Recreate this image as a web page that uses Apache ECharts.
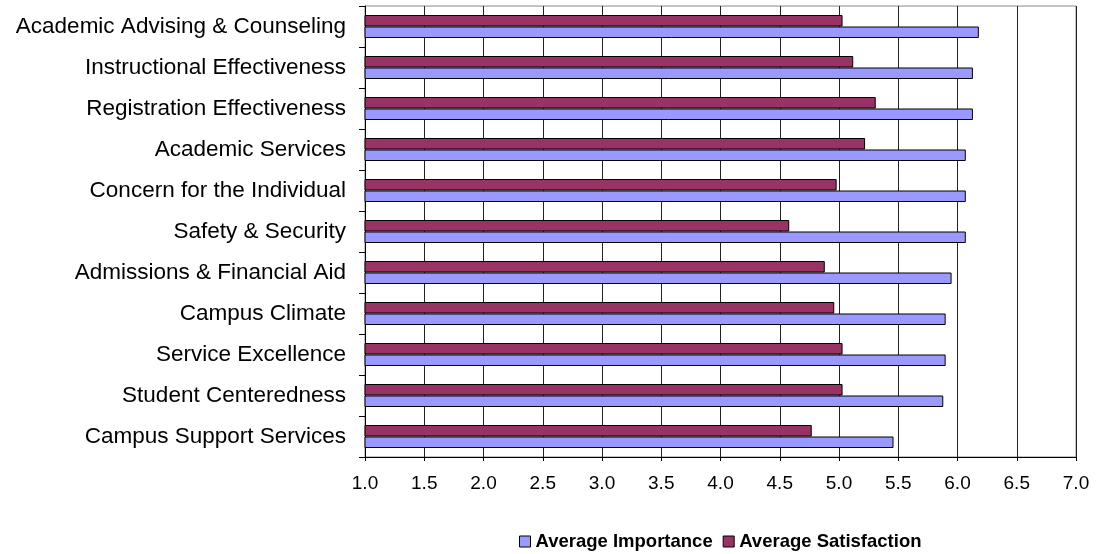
<!DOCTYPE html>
<html>
<head>
<meta charset="utf-8">
<script src="https://cdn.jsdelivr.net/npm/echarts@6/dist/echarts.min.js"></script>
<style>
html,body{margin:0;padding:0;background:#fff;}
#chart{width:1104px;height:554px;}
</style>
</head>
<body>
<div id="chart"></div>
<script>
const categories = [
  "Academic Advising & Counseling",
  "Instructional Effectiveness",
  "Registration Effectiveness",
  "Academic Services",
  "Concern for the Individual",
  "Safety & Security",
  "Admissions & Financial Aid",
  "Campus Climate",
  "Service Excellence",
  "Student Centeredness",
  "Campus Support Services"
];
const importance = [6.18, 6.13, 6.13, 6.07, 6.07, 6.07, 5.95, 5.90, 5.90, 5.88, 5.46];
const satisfaction = [5.03, 5.12, 5.31, 5.22, 4.98, 4.58, 4.88, 4.96, 5.03, 5.03, 4.77];
const seriesNames = ["Average Importance", "Average Satisfaction"];
const xTicks = { min: 1.0, max: 7.0, interval: 0.5 };

const FONT = "'Liberation Sans', Arial, sans-serif";
const chart = echarts.init(document.getElementById('chart'), null, {renderer: 'canvas'});
chart.setOption({
  animation: false,
  backgroundColor: '#ffffff',
  grid: {
    left: 365, right: 28, top: 6, bottom: 97,
    show: true, borderColor: '#888888', borderWidth: 1, backgroundColor: 'transparent'
  },
  legend: {
    data: seriesNames,
    top: 527,
    left: 514,
    icon: 'rect',
    itemWidth: 11,
    itemHeight: 11,
    itemGap: 10,
    textStyle: { fontFamily: FONT, fontWeight: 'bold', fontSize: 18.5, color: '#000' },
    itemStyle: { borderColor: '#000', borderWidth: 1 }
  },
  xAxis: {
    type: 'value',
    min: xTicks.min, max: xTicks.max, interval: xTicks.interval,
    axisLine: { show: true, lineStyle: { color: '#000', width: 1 } },
    axisTick: { show: true, length: 4, lineStyle: { color: '#000' } },
    axisLabel: {
      margin: 17, fontFamily: FONT, fontSize: 19, color: '#000',
      formatter: v => v.toFixed(1)
    },
    splitLine: { show: true, lineStyle: { color: '#222', width: 1 } }
  },
  yAxis: {
    type: 'category',
    data: categories,
    inverse: true,
    axisLine: { show: true, lineStyle: { color: '#000', width: 1 } },
    axisTick: { show: true, length: 6, lineStyle: { color: '#000' } },
    axisLabel: { margin: 19, fontFamily: FONT, fontSize: 22.5, color: '#000' },
    splitLine: { show: false }
  },
  series: [
    {
      name: seriesNames[1], type: 'bar', data: satisfaction,
      barWidth: 11.5, barGap: '0%',
      itemStyle: { color: '#993366', borderColor: '#000', borderWidth: 1 }
    },
    {
      name: seriesNames[0], type: 'bar', data: importance,
      barWidth: 11.5, barGap: '0%',
      itemStyle: { color: '#9999FF', borderColor: '#000', borderWidth: 1 }
    }
  ]
});
</script>
</body>
</html>
